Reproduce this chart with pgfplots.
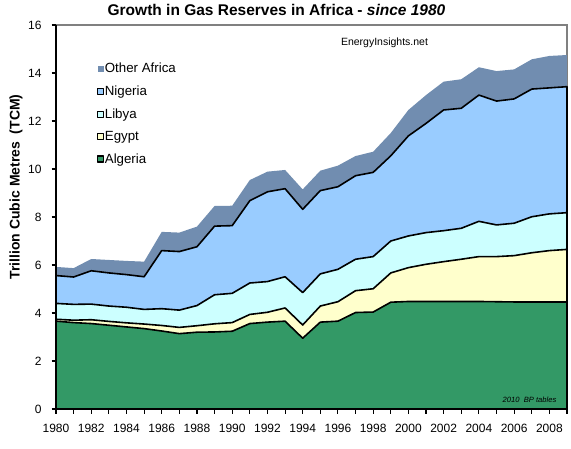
\documentclass[border=0pt]{standalone}
\usepackage{pgfplots}
\pgfplotsset{compat=1.18}
\usepackage{pgfplotstable}
\usepackage{fontspec}
\setmainfont{Liberation Sans}
\definecolor{alg}{RGB}{51,153,102}
\definecolor{egy}{RGB}{255,255,204}
\definecolor{lib}{RGB}{204,255,255}
\definecolor{nig}{RGB}{153,204,255}
\definecolor{oth}{RGB}{113,141,176}
\definecolor{frame}{RGB}{128,128,128}
% cumulative tops: A = Algeria, E = +Egypt, L = +Libya, N = +Nigeria, T = total Africa (TCM)
\pgfplotstableread{
year A E L N T
1980 3.66 3.74 4.40 5.56 5.92
1981 3.60 3.70 4.36 5.50 5.87
1982 3.56 3.72 4.37 5.76 6.25
1983 3.49 3.65 4.29 5.67 6.21
1984 3.42 3.59 4.24 5.60 6.17
1985 3.35 3.54 4.15 5.51 6.14
1986 3.25 3.48 4.18 6.60 7.38
1987 3.14 3.40 4.12 6.56 7.35
1988 3.20 3.47 4.31 6.76 7.60
1989 3.21 3.55 4.76 7.62 8.46
1990 3.24 3.60 4.82 7.64 8.47
1991 3.56 3.94 5.25 8.68 9.54
1992 3.62 4.03 5.31 9.05 9.89
1993 3.66 4.21 5.51 9.18 9.96
1994 2.95 3.50 4.85 8.32 9.15
1995 3.62 4.29 5.63 9.10 9.93
1996 3.66 4.47 5.82 9.26 10.14
1997 4.02 4.93 6.24 9.72 10.54
1998 4.04 5.01 6.35 9.86 10.72
1999 4.45 5.67 7.00 10.55 11.50
2000 4.48 5.89 7.21 11.38 12.46
2001 4.48 6.03 7.35 11.90 13.08
2002 4.48 6.14 7.43 12.46 13.64
2003 4.48 6.24 7.53 12.53 13.74
2004 4.48 6.35 7.82 13.08 14.24
2005 4.47 6.35 7.67 12.83 14.08
2006 4.46 6.39 7.74 12.92 14.15
2007 4.46 6.51 8.01 13.33 14.57
2008 4.46 6.60 8.13 13.38 14.71
2009 4.46 6.65 8.18 13.43 14.75
}\gas

\begin{document}
\begin{tikzpicture}
\begin{axis}[
  at={(0,0)}, anchor=south west,
  scale only axis, width=511pt, height=384pt,
  xmin=1980, xmax=2009, ymin=0, ymax=16,
  axis line style={draw=none},
  xtick pos=lower, ytick pos=left,
  xtick={1980,1982,...,2008}, minor xtick={1981,1983,...,2009},
  ytick={0,2,...,16},
  tick align=outside, major tick length=4.5pt, minor tick length=4.5pt,
  tick style={draw=black, line width=1.1pt},
  minor tick style={draw=black, line width=1.1pt},
  ticklabel style={font=\fontsize{12}{14}\selectfont},
  xticklabel style={yshift=-7.5pt},
  yticklabel style={xshift=-6.5pt},
  /pgf/number format/.cd, 1000 sep={}, assume math mode=true, /pgfplots/.cd,
  legend style={draw=none, fill=none, at={(0.080,0.902)}, anchor=north west,
    font=\fontsize{13.3}{15}\selectfont, row sep=10.5pt, inner sep=0pt,
    nodes={inner sep=0.5pt}},
  legend cell align=left,
  clip=false,
]
\draw[frame, line width=1.4pt] (rel axis cs:0,1) -- (rel axis cs:1,1) -- (rel axis cs:1,0);
\addplot[fill=oth, draw=none,
  legend image code/.code={\fill[oth] (0pt,-3pt) rectangle (6pt,3pt);}]
  table[x=year,y=T]{\gas} \closedcycle;
\addplot[fill=nig, draw=black, line width=1.6pt, line join=round,
  legend image code/.code={\draw[fill=nig, draw=black, line width=1.3pt] (0pt,-3pt) rectangle (6pt,3pt);}]
  table[x=year,y=N]{\gas} \closedcycle;
\addplot[fill=lib, draw=black, line width=1.6pt, line join=round,
  legend image code/.code={\draw[fill=lib, draw=black, line width=1.3pt] (0pt,-3pt) rectangle (6pt,3pt);}]
  table[x=year,y=L]{\gas} \closedcycle;
\addplot[fill=egy, draw=black, line width=1.6pt, line join=round,
  legend image code/.code={\draw[fill=egy, draw=black, line width=1.3pt] (0pt,-3pt) rectangle (6pt,3pt);}]
  table[x=year,y=E]{\gas} \closedcycle;
\addplot[fill=alg, draw=black, line width=1.6pt, line join=round,
  legend image code/.code={\draw[fill=alg, draw=black, line width=1.3pt] (0pt,-3pt) rectangle (6pt,3pt);}]
  table[x=year,y=A]{\gas} \closedcycle;
\draw[black, line width=1.4pt] (rel axis cs:0,1) -- (rel axis cs:0,0) -- (rel axis cs:1,0);
\legend{Other Africa,Nigeria,Libya,Egypt,Algeria}
\end{axis}
\node[font=\fontsize{15.5}{18}\selectfont\bfseries] at (220.5pt,399pt)
  {Growth in Gas Reserves in Africa - \textit{since 1980}};
\node[rotate=90, font=\fontsize{14}{16}\selectfont\bfseries] at (-40pt,222pt)
  {Trillion Cubic Metres\ \ (TCM)};
\node[font=\fontsize{10.5}{12}\selectfont] at (328.5pt,366pt) {EnergyInsights.net};
\node[font=\fontsize{7.6}{9}\selectfont\itshape] at (473.5pt,9.5pt) {2010\ \ BP tables};
\pgfresetboundingbox
\path[use as bounding box] (-56pt,-39pt) rectangle (515pt,409pt);
\end{tikzpicture}
\end{document}
